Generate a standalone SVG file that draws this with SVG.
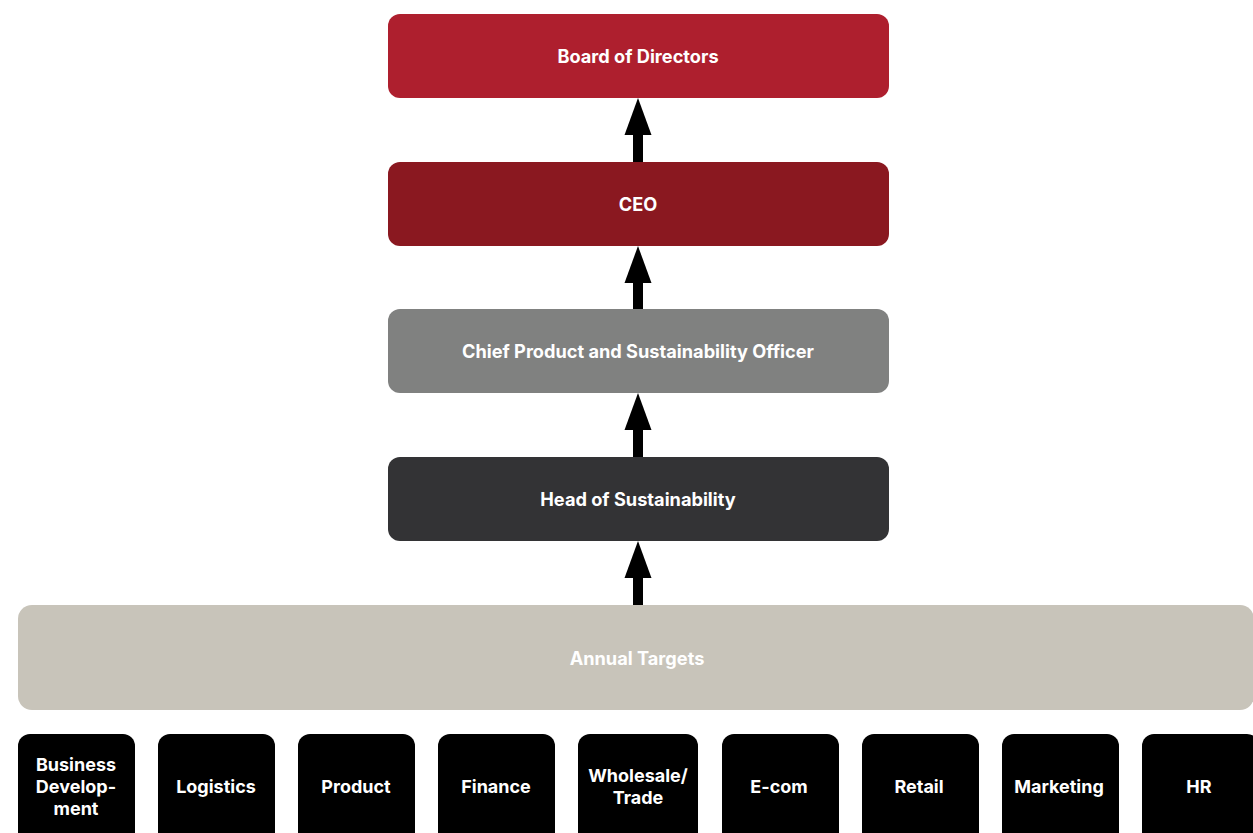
<svg xmlns="http://www.w3.org/2000/svg" width="1253" height="833" viewBox="0 0 1253 833">
<style>
.t{font-family:Inter,"Liberation Sans",Arial,sans-serif;font-weight:700;fill:#fff;text-anchor:middle}
.m{font-size:18.2px}
.b{font-size:18px}
</style>
<defs>
<g id="arr"><rect x="-5" y="37" width="10" height="28" fill="#000"/><polygon points="0,0 -13.5,37 13.5,37" fill="#000"/></g>
</defs>
<rect width="1253" height="833" fill="#fff"/>
<g id="connectors">
<use href="#arr" x="638" y="98"/>
<use href="#arr" x="638" y="246"/>
<use href="#arr" x="638" y="393"/>
<use href="#arr" x="638" y="541"/>
</g>
<g id="board"><rect x="388" y="14" width="501" height="84" rx="12" fill="#AE1F2E"/><text class="t m" x="638" y="62.5">Board of Directors</text></g>
<g id="ceo"><rect x="388" y="162" width="501" height="84" rx="12" fill="#8A1820"/><text class="t m" x="638" y="210.5">CEO</text></g>
<g id="cpso"><rect x="388" y="309" width="501" height="84" rx="12" fill="#808180"/><text class="t m" x="638" y="357.5">Chief Product and Sustainability Officer</text></g>
<g id="hos"><rect x="388" y="457" width="501" height="84" rx="12" fill="#333335"/><text class="t m" x="638" y="505.5">Head of Sustainability</text></g>
<g id="annual"><rect x="18" y="605" width="1236" height="105" rx="14" fill="#C8C4BA"/><text class="t m" x="637" y="664.5">Annual Targets</text></g>
<g id="bizdev"><rect x="18" y="734" width="117" height="120" rx="12" fill="#000"/><text class="t b" x="76" y="771">Business</text><text class="t b" x="76" y="793">Develop-</text><text class="t b" x="76" y="815">ment</text></g>
<g id="logistics"><rect x="158" y="734" width="117" height="120" rx="12" fill="#000"/><text class="t b" x="216" y="793">Logistics</text></g>
<g id="product"><rect x="298" y="734" width="117" height="120" rx="12" fill="#000"/><text class="t b" x="356" y="793">Product</text></g>
<g id="finance"><rect x="438" y="734" width="117" height="120" rx="12" fill="#000"/><text class="t b" x="496" y="793">Finance</text></g>
<g id="wholesale"><rect x="578" y="734" width="120" height="120" rx="12" fill="#000"/><text class="t b" x="638" y="782">Wholesale/</text><text class="t b" x="638" y="804">Trade</text></g>
<g id="ecom"><rect x="722" y="734" width="117" height="120" rx="12" fill="#000"/><text class="t b" x="779" y="793">E-com</text></g>
<g id="retail"><rect x="862" y="734" width="117" height="120" rx="12" fill="#000"/><text class="t b" x="919" y="793">Retail</text></g>
<g id="marketing"><rect x="1002" y="734" width="117" height="120" rx="12" fill="#000"/><text class="t b" x="1059" y="793">Marketing</text></g>
<g id="hr"><rect x="1142" y="734" width="117" height="120" rx="12" fill="#000"/><text class="t b" x="1199" y="793">HR</text></g>
</svg>
